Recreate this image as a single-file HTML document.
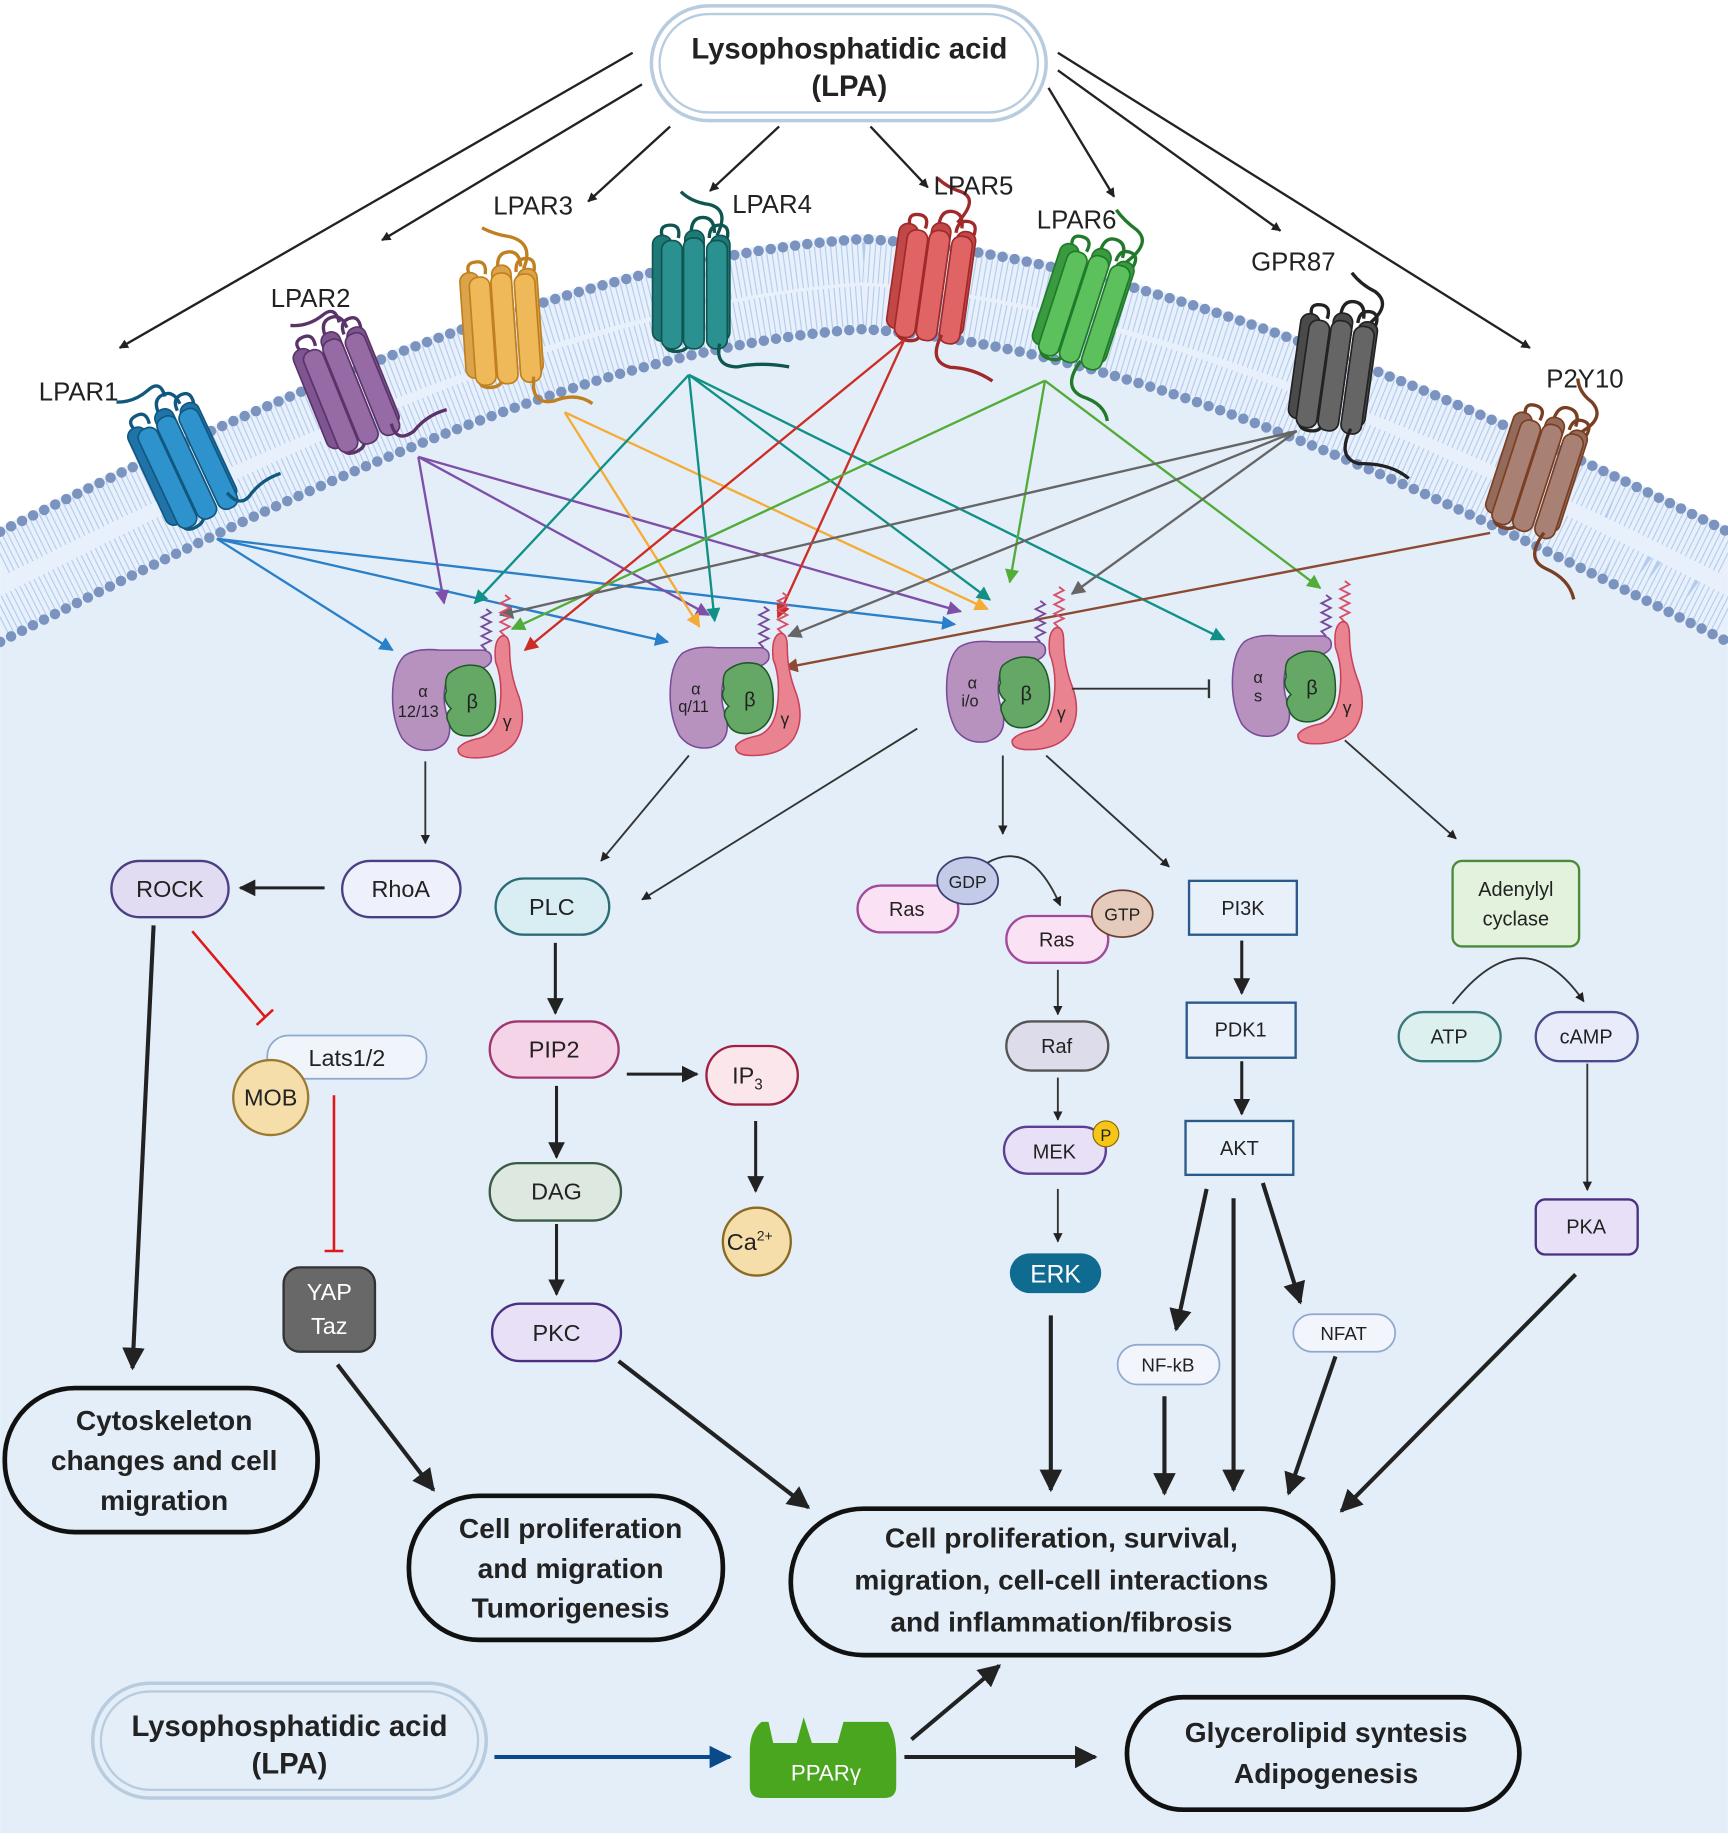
<!DOCTYPE html>
<html><head><meta charset="utf-8"><style>
html,body{margin:0;padding:0;background:#fff}
svg{display:block}
text{font-family:"Liberation Sans",Arial,sans-serif}
.b{font-weight:bold}
.rd{fill:var(--d);stroke:var(--s);stroke-width:1.3}
.rl{fill:var(--l);stroke:var(--s);stroke-width:1.3}
.rs{stroke:var(--s)}
path.t{fill:none;stroke-width:2.6;stroke:var(--s)}
</style></head><body>
<svg width="1728" height="1839" viewBox="0 0 1475 1570" xmlns="http://www.w3.org/2000/svg">
<defs>
<marker id="mk" viewBox="0 0 10 10" refX="9" refY="5" markerWidth="8" markerHeight="8" markerUnits="userSpaceOnUse" orient="auto"><path d="M0,0L10,5L0,10Z" fill="#222"/></marker>
<marker id="mkB" viewBox="0 0 10 10" refX="9" refY="5" markerWidth="5.5" markerHeight="5.5" orient="auto"><path d="M0,0L10,5L0,10Z" fill="#222"/></marker>
<marker id="mkN" viewBox="0 0 10 10" refX="9" refY="5" markerWidth="5.5" markerHeight="5.5" orient="auto"><path d="M0,0L10,5L0,10Z" fill="#0a4a8a"/></marker>
<marker id="c1" viewBox="0 0 10 10" refX="9" refY="5" markerWidth="14" markerHeight="12" markerUnits="userSpaceOnUse" orient="auto"><path d="M0,0L10,5L0,10Z" fill="#2a7fc9"/></marker>
<marker id="c2" viewBox="0 0 10 10" refX="9" refY="5" markerWidth="14" markerHeight="12" markerUnits="userSpaceOnUse" orient="auto"><path d="M0,0L10,5L0,10Z" fill="#7d4fa8"/></marker>
<marker id="c3" viewBox="0 0 10 10" refX="9" refY="5" markerWidth="14" markerHeight="12" markerUnits="userSpaceOnUse" orient="auto"><path d="M0,0L10,5L0,10Z" fill="#f4ac35"/></marker>
<marker id="c4" viewBox="0 0 10 10" refX="9" refY="5" markerWidth="14" markerHeight="12" markerUnits="userSpaceOnUse" orient="auto"><path d="M0,0L10,5L0,10Z" fill="#119085"/></marker>
<marker id="c5" viewBox="0 0 10 10" refX="9" refY="5" markerWidth="14" markerHeight="12" markerUnits="userSpaceOnUse" orient="auto"><path d="M0,0L10,5L0,10Z" fill="#cc2e25"/></marker>
<marker id="c6" viewBox="0 0 10 10" refX="9" refY="5" markerWidth="14" markerHeight="12" markerUnits="userSpaceOnUse" orient="auto"><path d="M0,0L10,5L0,10Z" fill="#52ac38"/></marker>
<marker id="c7" viewBox="0 0 10 10" refX="9" refY="5" markerWidth="14" markerHeight="12" markerUnits="userSpaceOnUse" orient="auto"><path d="M0,0L10,5L0,10Z" fill="#666"/></marker>
<marker id="c8" viewBox="0 0 10 10" refX="9" refY="5" markerWidth="14" markerHeight="12" markerUnits="userSpaceOnUse" orient="auto"><path d="M0,0L10,5L0,10Z" fill="#8c4a32"/></marker>
<g id="gp">
 <path d="M80,0 l-4,-4 l8,-4 l-8,-4 l8,-4 l-8,-4 l8,-4 l-8,-4 l8,-4 l-4,-3" fill="none" stroke="#7a4a9a" stroke-width="1.6"/>
 <path d="M96,-12 l-4,-4 l8,-4 l-8,-4 l8,-4 l-8,-4 l8,-4 l-8,-4 l8,-4 l-4,-3" fill="none" stroke="#d8506a" stroke-width="1.6"/>
 <path d="M93,-12 Q100,-14 100,0 Q100,20 108,40 Q115,62 105,78 Q95,92 70,92 Q55,92 56,84 Q60,78 75,75 Q90,70 92,45 Q94,25 88,10 Q86,-8 93,-12Z" fill="#e9838f" stroke="#c8405a" stroke-width="1.3"/>
 <path d="M10,5 Q20,-2 40,0 L78,0 Q86,2 84,10 Q80,17 66,17 Q50,18 45,30 Q42,45 48,60 Q52,80 35,85 Q18,88 8,75 Q0,60 0,40 Q0,15 10,5Z" fill="#b792bf" stroke="#7a4a9a" stroke-width="1.3"/>
 <path d="M48,20 Q60,10 75,14 Q88,20 88,45 Q88,68 68,73 Q52,75 48,62 Q44,55 50,50 Q42,42 46,35 Q44,25 48,20Z" fill="#65a866" stroke="#1f5a25" stroke-width="1.3"/>
 <text x="68" y="50" font-size="17" text-anchor="middle" fill="#222">β</text>
 <text x="98" y="66" font-size="15" text-anchor="middle" fill="#222">γ</text>
</g>
<g id="rc">
 <path d="M-22,-38 q-4,-10 6,-10 q8,0 6,10 M0,-42 q0,-12 9,-12 q9,0 9,12 M14,-38 q0,-10 8,-10 q8,0 6,10" fill="none" stroke-width="2.6" class="rs"/>
 <path d="M-20,40 q-2,10 8,10 q10,0 10,-8" fill="none" stroke-width="2.6" class="rs"/>
 <rect x="-30" y="-40" width="15" height="82" rx="7" class="rd"/>
 <rect x="-5" y="-44" width="15" height="82" rx="7" class="rd"/>
 <rect x="15" y="-40" width="15" height="82" rx="7" class="rd"/>
 <rect x="-23" y="-36" width="16" height="84" rx="7" class="rl"/>
 <rect x="-6" y="-38" width="16" height="86" rx="7" class="rl"/>
 <rect x="12" y="-36" width="16" height="84" rx="7" class="rl"/>
</g>
</defs>

<rect x="0" y="0" width="1475" height="1570" fill="#fff"/>
<path d="M0,552 C240,430 500,300 737,285 C975,300 1235,430 1475,552 L1475,1565 L0,1565Z" fill="#e4eef9"/>
<path d="M0,450 C230,335 500,215 737,200 C975,215 1245,335 1475,450 L1475,552 C1235,430 975,300 737,285 C500,300 240,430 0,552Z" fill="#e8f0fb"/>
<path d="M0,474 C230,359 500,239 737,224 C975,239 1245,359 1475,474" fill="none" stroke="#b4cdee" stroke-width="34" stroke-dasharray="1 3.5"/>
<path d="M0,528 C240,406 500,276 737,261 C975,276 1235,406 1475,528" fill="none" stroke="#b4cdee" stroke-width="34" stroke-dasharray="1 3.5"/>
<path d="M0,454 C230,339 500,219 737,204 C975,219 1245,339 1475,454" fill="none" stroke="#7b93bf" stroke-width="9" stroke-linecap="round" stroke-dasharray="0 10.5"/>
<path d="M0,548 C240,426 500,296 737,281 C975,296 1235,426 1475,548" fill="none" stroke="#7b93bf" stroke-width="9" stroke-linecap="round" stroke-dasharray="0 10.5"/>

<!-- receptors -->
<g style="--d:#1f73a8;--l:#2e93cc;--s:#115880" transform="translate(155,395) rotate(-25) scale(1.1)"><use href="#rc"/><path class="t" d="M10,-52 q2,-14 -10,-10 q-14,4 -26,-2 M22,36 q4,14 14,10 q14,-8 30,-6"/></g>
<g style="--d:#7e5590;--l:#966aa5;--s:#5a3468" transform="translate(295,330) rotate(-22) scale(1.1)"><use href="#rc"/><path class="t" d="M14,-48 q2,-14 -10,-10 q-14,4 -26,-2 M22,40 q-2,16 14,12 q14,-8 30,-6"/></g>
<g style="--d:#dca44a;--l:#efb858;--s:#c08020" transform="translate(428,275) rotate(-4) scale(1.1)"><use href="#rc"/><path class="t" d="M20,-40 q10,-20 -10,-26 q-10,-2 -20,-8 M22,44 q-4,22 14,20 q18,-6 30,4"/></g>
<g style="--d:#1e7a78;--l:#2b9090;--s:#0f5650" transform="translate(590,245) scale(1.1)"><use href="#rc"/><path class="t" d="M20,-40 q10,-20 -6,-24 q-14,-2 -22,-10 M22,44 q-4,18 14,18 q18,-4 40,0"/></g>
<g style="--d:#c24848;--l:#e06464;--s:#a02a2a" transform="translate(795,238) rotate(8) scale(1.1)"><use href="#rc"/><path class="t" d="M14,-46 q14,-20 0,-24 q-12,-2 -20,-8 M14,42 q-8,22 10,24 q18,-2 34,6"/></g>
<g style="--d:#3a9a40;--l:#5cc05c;--s:#207a2a" transform="translate(925,258) rotate(18) scale(1.1)"><use href="#rc"/><path class="t" d="M22,-40 q14,-20 0,-26 q-12,-4 -20,-10 M12,44 q-8,24 10,26 q18,0 24,12"/></g>
<g style="--d:#4a4a4a;--l:#656565;--s:#222" transform="translate(1138,315) rotate(8) scale(1.1)"><use href="#rc"/><path class="t" d="M24,-40 q14,-16 0,-24 q-12,-4 -20,-12 M20,44 q-8,24 10,26 q24,-4 40,6"/></g>
<g style="--d:#946a5a;--l:#a88074;--s:#7a3e22" transform="translate(1312,402) rotate(18) scale(1.1)"><use href="#rc"/><path class="t" d="M24,-40 q14,-16 0,-24 q-12,-4 -16,-14 M20,44 q-8,24 10,26 q20,2 28,16"/></g>

<g font-size="22" fill="#222">
<text x="33" y="342">LPAR1</text><text x="231" y="262">LPAR2</text><text x="421" y="183">LPAR3</text>
<text x="625" y="182">LPAR4</text><text x="797" y="166">LPAR5</text><text x="885" y="195">LPAR6</text>
<text x="1068" y="231">GPR87</text><text x="1320" y="331">P2Y10</text>
</g>

<rect x="556" y="5" width="337" height="98" rx="49" fill="#fff" stroke="#b8cce0" stroke-width="3"/>
<rect x="563" y="12" width="323" height="84" rx="42" fill="none" stroke="#b8cce0" stroke-width="2"/>
<text x="725" y="50" font-size="25" class="b" text-anchor="middle" fill="#222">Lysophosphatidic acid</text>
<text x="725" y="82" font-size="25" class="b" text-anchor="middle" fill="#222">(LPA)</text>
<g stroke="#222" stroke-width="2" marker-end="url(#mk)" fill="none">
<line x1="540" y1="45" x2="102" y2="297"/><line x1="548" y1="72" x2="326" y2="205"/>
<line x1="572" y1="108" x2="502" y2="172"/><line x1="665" y1="108" x2="606" y2="163"/>
<line x1="743" y1="108" x2="792" y2="160"/><line x1="895" y1="75" x2="951" y2="168"/>
<line x1="903" y1="60" x2="1093" y2="197"/><line x1="903" y1="45" x2="1306" y2="297"/>
</g>

<g fill="none" stroke-width="2">
<g stroke="#2a7fc9"><line x1="185" y1="460" x2="335" y2="555" marker-end="url(#c1)"/><line x1="185" y1="460" x2="570" y2="548" marker-end="url(#c1)"/><line x1="185" y1="460" x2="815" y2="533" marker-end="url(#c1)"/></g>
<g stroke="#7d4fa8"><line x1="357" y1="390" x2="379" y2="515" marker-end="url(#c2)"/><line x1="357" y1="390" x2="605" y2="525" marker-end="url(#c2)"/><line x1="357" y1="390" x2="820" y2="522" marker-end="url(#c2)"/></g>
<g stroke="#f4ac35"><line x1="482" y1="352" x2="597" y2="535" marker-end="url(#c3)"/><line x1="482" y1="352" x2="843" y2="520" marker-end="url(#c3)"/></g>
<g stroke="#119085"><line x1="588" y1="320" x2="405" y2="515" marker-end="url(#c4)"/><line x1="588" y1="320" x2="610" y2="530" marker-end="url(#c4)"/><line x1="588" y1="320" x2="845" y2="512" marker-end="url(#c4)"/><line x1="588" y1="320" x2="1045" y2="546" marker-end="url(#c4)"/></g>
<g stroke="#cc2e25"><line x1="772" y1="290" x2="448" y2="555" marker-end="url(#c5)"/><line x1="772" y1="290" x2="664" y2="527" marker-end="url(#c5)"/></g>
<g stroke="#52ac38"><line x1="892" y1="325" x2="437" y2="537" marker-end="url(#c6)"/><line x1="892" y1="325" x2="862" y2="497" marker-end="url(#c6)"/><line x1="892" y1="325" x2="1127" y2="502" marker-end="url(#c6)"/></g>
<g stroke="#666"><line x1="1107" y1="368" x2="427" y2="525" marker-end="url(#c7)"/><line x1="1107" y1="368" x2="673" y2="543" marker-end="url(#c7)"/><line x1="1107" y1="368" x2="915" y2="507" marker-end="url(#c7)"/></g>
<g stroke="#8c4a32"><line x1="1272" y1="455" x2="670" y2="570" marker-end="url(#c8)"/></g>
</g>

<g transform="translate(335,555)"><use href="#gp"/><text x="26" y="40" font-size="14" text-anchor="middle" fill="#222">α</text><text x="22" y="57" font-size="14" text-anchor="middle" fill="#222">12/13</text></g>
<g transform="translate(572,553)"><use href="#gp"/><text x="22" y="40" font-size="14" text-anchor="middle" fill="#222">α</text><text x="20" y="55" font-size="14" text-anchor="middle" fill="#222">q/11</text></g>
<g transform="translate(808,548)"><use href="#gp"/><text x="22" y="40" font-size="14" text-anchor="middle" fill="#222">α</text><text x="20" y="55" font-size="14" text-anchor="middle" fill="#222">i/o</text></g>
<g transform="translate(1052,543)"><use href="#gp"/><text x="22" y="40" font-size="14" text-anchor="middle" fill="#222">α</text><text x="22" y="56" font-size="14" text-anchor="middle" fill="#222">s</text></g>

<g stroke="#333" stroke-width="1.6" fill="none" marker-end="url(#mk)">
<line x1="363" y1="650" x2="363" y2="720"/>
<line x1="588" y1="645" x2="513" y2="735"/>
<line x1="783" y1="622" x2="548" y2="768"/>
<line x1="856" y1="645" x2="856" y2="712"/>
<line x1="893" y1="645" x2="998" y2="740"/>
<line x1="1148" y1="632" x2="1243" y2="716"/>
<path d="M842,737 Q880,715 905,773"/>
<path d="M1240,857 Q1300,780 1352,855"/>
<line x1="903" y1="828" x2="903" y2="866"/>
<line x1="903" y1="920" x2="903" y2="956"/>
<line x1="903" y1="1015" x2="903" y2="1060"/>
<line x1="1355" y1="908" x2="1355" y2="1016"/>
</g>
<line x1="915" y1="588" x2="1031" y2="588" stroke="#333" stroke-width="1.6"/>
<line x1="1032" y1="580" x2="1032" y2="596" stroke="#333" stroke-width="2"/>

<g stroke="#222" stroke-width="2.6" fill="none" marker-end="url(#mkB)">
<line x1="277" y1="758" x2="205" y2="758"/>
<line x1="474" y1="805" x2="474" y2="865"/>
<line x1="535" y1="917" x2="595" y2="917"/>
<line x1="645" y1="957" x2="645" y2="1017"/>
<line x1="475" y1="927" x2="475" y2="988"/>
<line x1="475" y1="1045" x2="475" y2="1105"/>
<line x1="1060" y1="803" x2="1060" y2="848"/>
<line x1="1060" y1="906" x2="1060" y2="951"/>
</g>
<g stroke="#222" stroke-width="3.5" fill="none" marker-end="url(#mkB)">
<line x1="131" y1="790" x2="113" y2="1168"/>
<line x1="288" y1="1165" x2="370" y2="1272"/>
<line x1="528" y1="1162" x2="690" y2="1287"/>
<line x1="897" y1="1123" x2="897" y2="1272"/>
<line x1="1030" y1="1015" x2="1004" y2="1135"/>
<line x1="1053" y1="1023" x2="1053" y2="1272"/>
<line x1="1078" y1="1010" x2="1110" y2="1112"/>
<line x1="994" y1="1192" x2="994" y2="1275"/>
<line x1="1140" y1="1158" x2="1100" y2="1275"/>
<line x1="1345" y1="1088" x2="1145" y2="1290"/>
<line x1="778" y1="1485" x2="853" y2="1422"/>
<line x1="772" y1="1500" x2="935" y2="1500"/>
</g>
<line x1="422" y1="1500" x2="623" y2="1500" stroke="#0a4a8a" stroke-width="3.5" marker-end="url(#mkN)"/>
<g stroke="#e01818" stroke-width="2.2"><line x1="164" y1="795" x2="226" y2="868"/><line x1="219" y1="875" x2="233" y2="862"/><line x1="285" y1="935" x2="285" y2="1068"/><line x1="277" y1="1068" x2="293" y2="1068"/></g>

<g font-size="20" fill="#222" text-anchor="middle">
<rect x="95" y="735" width="100" height="48" rx="24" fill="#e2dcf2" stroke="#4a3f82" stroke-width="2"/><text x="145" y="766">ROCK</text>
<rect x="292" y="735" width="101" height="48" rx="24" fill="#eef0fb" stroke="#4a3f82" stroke-width="2"/><text x="342" y="766">RhoA</text>
<rect x="423" y="750" width="97" height="48" rx="24" fill="#d8eef3" stroke="#2c6b78" stroke-width="2"/><text x="471" y="781">PLC</text>
<rect x="418" y="872" width="110" height="48" rx="24" fill="#f6d4e8" stroke="#a03670" stroke-width="2"/><text x="473" y="903">PIP2</text>
<rect x="603" y="893" width="78" height="50" rx="25" fill="#fbe6ec" stroke="#a02040" stroke-width="2"/><text x="638" y="925">IP<tspan font-size="13" dy="5">3</tspan></text>
<rect x="418" y="993" width="112" height="49" rx="24" fill="#dde8e0" stroke="#3a5a45" stroke-width="2"/><text x="475" y="1024">DAG</text>
<circle cx="646" cy="1060" r="29" fill="#f5deaa" stroke="#8a6a20" stroke-width="2"/><text x="640" y="1067">Ca<tspan font-size="12" dy="-8">2+</tspan></text>
<rect x="420" y="1113" width="110" height="49" rx="24" fill="#e8e0f6" stroke="#4a2f82" stroke-width="2"/><text x="475" y="1145">PKC</text>
<rect x="228" y="884" width="136" height="37" rx="18" fill="#f0f4fb" stroke="#8fa8cf" stroke-width="1.5"/><text x="296" y="910">Lats1/2</text>
<circle cx="231" cy="937" r="32" fill="#f5deaa" stroke="#9a7a30" stroke-width="2"/><text x="231" y="944">MOB</text>
<rect x="242" y="1082" width="78" height="72" rx="14" fill="#686868" stroke="#333" stroke-width="2"/><text x="281" y="1110" fill="#fff">YAP</text><text x="281" y="1139" fill="#fff">Taz</text>
</g>
<g font-size="17" fill="#222" text-anchor="middle">
<rect x="732" y="756" width="86" height="40" rx="20" fill="#fae1f3" stroke="#a04a9a" stroke-width="2"/><text x="774" y="782">Ras</text>
<ellipse cx="826" cy="752" rx="26" ry="20" fill="#c4cbe8" stroke="#3a3f72" stroke-width="1.5"/><text x="826" y="758" font-size="15">GDP</text>
<rect x="859" y="782" width="87" height="40" rx="20" fill="#fae1f3" stroke="#a04a9a" stroke-width="2"/><text x="902" y="808">Ras</text>
<ellipse cx="958" cy="780" rx="26" ry="20" fill="#e4cbbb" stroke="#6a4030" stroke-width="1.5"/><text x="958" y="786" font-size="15">GTP</text>
<rect x="859" y="872" width="87" height="42" rx="21" fill="#dcdcea" stroke="#555" stroke-width="2"/><text x="902" y="899">Raf</text>
<rect x="857" y="962" width="87" height="40" rx="20" fill="#e8e0f6" stroke="#5a3f92" stroke-width="2"/><text x="900" y="989">MEK</text>
<circle cx="944" cy="968" r="11" fill="#f5c518" stroke="#8a6a00" stroke-width="1"/><text x="944" y="974" font-size="14">P</text>
<rect x="862" y="1070" width="78" height="34" rx="17" fill="#0f6b8f"/><text x="901" y="1095" fill="#fff" font-size="21">ERK</text>
<rect x="1015" y="752" width="92" height="46" fill="#e8f0fa" stroke="#2a5a8a" stroke-width="2"/><text x="1061" y="781">PI3K</text>
<rect x="1013" y="856" width="93" height="47" fill="#e8f0fa" stroke="#2a5a8a" stroke-width="2"/><text x="1059" y="885">PDK1</text>
<rect x="1012" y="957" width="92" height="46" fill="#e8f0fa" stroke="#2a5a8a" stroke-width="2"/><text x="1058" y="986">AKT</text>
<rect x="1240" y="735" width="108" height="73" rx="8" fill="#e2f2dc" stroke="#4a8a3a" stroke-width="2"/><text x="1294" y="765">Adenylyl</text><text x="1294" y="790">cyclase</text>
<rect x="1194" y="864" width="87" height="42" rx="21" fill="#ddf0f0" stroke="#3a7a7a" stroke-width="2"/><text x="1237" y="891">ATP</text>
<rect x="1311" y="864" width="87" height="42" rx="21" fill="#e8ecfa" stroke="#4a4a8a" stroke-width="2"/><text x="1354" y="891">cAMP</text>
<rect x="1311" y="1024" width="87" height="47" rx="8" fill="#e8e0f6" stroke="#4a2f82" stroke-width="2"/><text x="1354" y="1053">PKA</text>
<rect x="954" y="1148" width="87" height="34" rx="17" fill="#f2f6fc" stroke="#8fa8cf" stroke-width="1.5"/><text x="997" y="1171" font-size="16">NF-kB</text>
<rect x="1104" y="1122" width="87" height="32" rx="16" fill="#f2f6fc" stroke="#8fa8cf" stroke-width="1.5"/><text x="1147" y="1144" font-size="16">NFAT</text>
</g>

<g fill="#e4eef9" stroke="#111" stroke-width="4">
<rect x="4" y="1185" width="267" height="123" rx="60"/>
<rect x="349" y="1277" width="268" height="123" rx="60"/>
<rect x="675" y="1288" width="463" height="125" rx="62"/>
<rect x="962" y="1449" width="335" height="96" rx="48"/>
</g>
<g font-size="24" class="b" fill="#222" text-anchor="middle">
<text x="140" y="1221">Cytoskeleton</text><text x="140" y="1255">changes and cell</text><text x="140" y="1289">migration</text>
<text x="487" y="1313">Cell proliferation</text><text x="487" y="1347">and migration</text><text x="487" y="1381">Tumorigenesis</text>
<text x="906" y="1321">Cell proliferation, survival,</text><text x="906" y="1357">migration, cell-cell interactions</text><text x="906" y="1393">and inflammation/fibrosis</text>
<text x="1132" y="1487">Glycerolipid syntesis</text><text x="1132" y="1522">Adipogenesis</text>
</g>

<rect x="79" y="1437" width="336" height="98" rx="49" fill="#e4eef9" stroke="#b8cce0" stroke-width="3"/>
<rect x="86" y="1444" width="322" height="84" rx="42" fill="none" stroke="#b8cce0" stroke-width="2"/>
<text x="247" y="1482" font-size="25" class="b" text-anchor="middle" fill="#222">Lysophosphatidic acid</text>
<text x="247" y="1514" font-size="25" class="b" text-anchor="middle" fill="#222">(LPA)</text>

<path d="M650,1470 L656,1470 L660,1488 L680,1488 L686,1466 L693,1488 L715,1488 L720,1470 L758,1470 Q765,1480 765,1500 L765,1525 Q765,1535 755,1535 L650,1535 Q640,1535 640,1525 L640,1495 Q640,1478 650,1470Z" fill="#4aa51f"/>
<text x="705" y="1520" font-size="19" fill="#fff" text-anchor="middle">PPARγ</text>
</svg>
</body></html>
